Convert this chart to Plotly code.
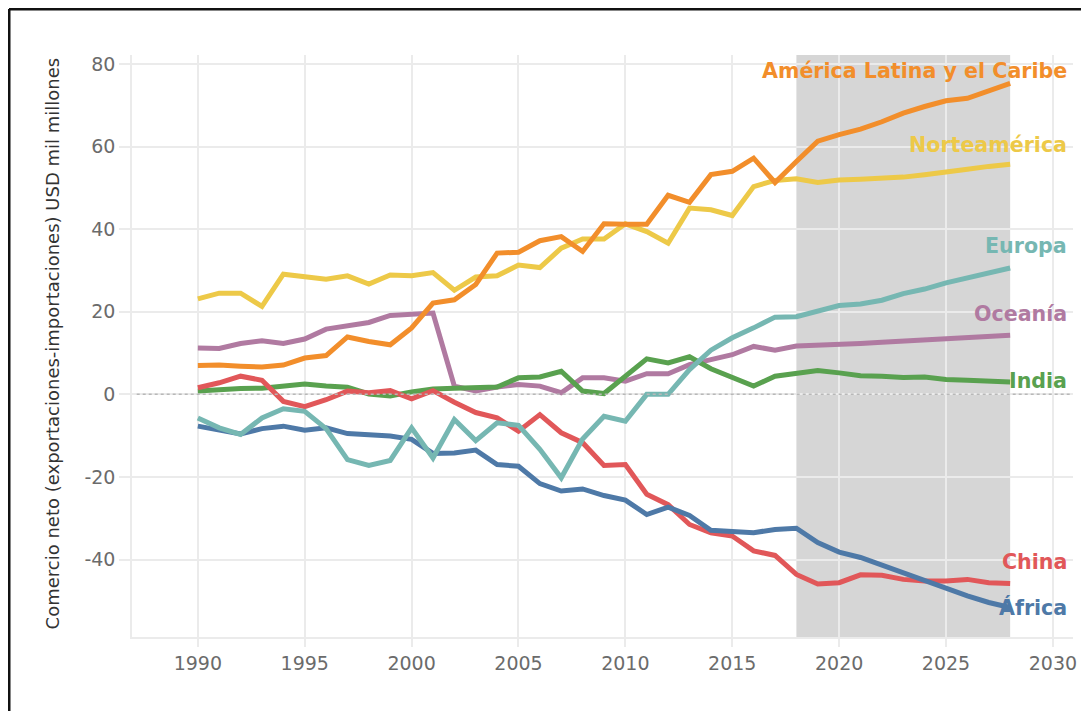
import plotly.graph_objects as go

years = list(range(1990, 2029))

america = [7.0, 7.1, 6.8, 6.6, 7.1, 8.8, 9.4, 13.9, 12.8, 12.0,
           16.1, 22.1, 22.9, 26.6, 34.2, 34.4, 37.2, 38.2, 34.6, 41.3,
           41.2, 41.2, 48.2, 46.5, 53.2, 54.0, 57.2, 51.3, 56.4, 61.3,
           62.9, 64.2, 66.0, 68.1, 69.7, 71.1, 71.7, 73.5, 75.3]
norte = [23.1, 24.5, 24.5, 21.3, 29.1, 28.6, 27.9, 28.7, 26.7, 28.9,
         28.7, 29.5, 25.2, 28.4, 28.7, 31.3, 30.7, 35.4, 37.6, 37.6,
         41.3, 39.4, 36.6, 45.1, 44.7, 43.3, 50.3, 51.8, 52.2, 51.3,
         51.9, 52.1, 52.2, 52.6, 53.2, 54.0, 54.5, 55.2, 55.7]
europa = [-5.7, -8.1, -9.7, -5.7, -3.5, -4.1, -8.3, -15.8, -17.2, -16.0,
          -8.1, -15.4, -6.1, -11.2, -6.9, -7.5, -13.3, -20.2, -10.8, -5.3,
          -6.5, 0.0, 0.0, 6.0, 10.7, 13.7, 16.1, 18.7, 18.8, 20.1,
          21.5, 21.9, 22.8, 24.4, 25.5, 27.0, 28.2, 29.4, 30.6]
oceania = [11.2, 11.1, 12.3, 13.0, 12.3, 13.4, 15.8, 16.6, 17.4, 19.1,
           19.3, 19.7, 2.0, 0.8, 1.8, 2.4, 2.0, 0.4, 4.0, 4.0,
           3.2, 5.0, 5.0, 7.2, 8.4, 9.6, 11.6, 10.7, 11.7, 11.8,
           12.1, 12.3, 12.6, 12.9, 13.1, 13.4, 13.7, 14.0, 14.3]
india = [0.8, 1.2, 1.4, 1.5, 2.0, 2.5, 2.0, 1.7, 0.1, -0.4,
         0.6, 1.3, 1.5, 1.8, 1.8, 4.0, 4.2, 5.6, 0.8, 0.2,
         4.4, 8.6, 7.6, 9.1, 6.2, 4.0, 2.0, 4.4, 5.0, 5.8,
         5.2, 4.5, 4.4, 4.1, 4.2, 3.6, 3.4, 3.2, 3.0]
china = [1.6, 2.8, 4.4, 3.4, -1.7, -3.0, -1.3, 0.8, 0.4, 0.9,
         -1.1, 0.9, -1.9, -4.4, -5.7, -8.9, -4.9, -9.3, -11.7, -17.2,
         -17.0, -24.2, -26.7, -31.5, -33.5, -34.3, -37.9, -39.0, -43.6, -45.9,
         -45.6, -43.7, -43.8, -44.8, -45.2, -45.2, -44.8, -45.6, -45.8]
africa = [-7.7, -8.5, -9.6, -8.3, -7.7, -8.7, -8.1, -9.5, -9.7, -10.1,
          -10.9, -14.3, -14.2, -13.5, -17.0, -17.4, -21.6, -23.4, -22.9, -24.5,
          -25.6, -29.1, -27.3, -29.3, -32.9, -33.3, -33.5, -32.7, -32.4, -35.9,
          -38.2, -39.5, -41.4, -43.4, -45.2, -47.0, -48.8, -50.4, -51.6]

series_names = ["Norteamérica", "Oceanía", "India", "China", "África", "Europa",
                "América Latina y el Caribe"]
series_values = [norte, oceania, india, china, africa, europa, america]
colors = ["#EDC948", "#B07AA1", "#59A14F", "#E15759", "#4E79A7", "#76B7B2", "#F28E2B"]
label_y = [60.5, 19.4, 3.2, -40.6, -51.5, 35.9, 78.3]

x_ticks = [1990, 1995, 2000, 2005, 2010, 2015, 2020, 2025, 2030]
y_ticks = [-40, -20, 0, 20, 40, 60, 80]
y_ticktext = ["-40", "-20", "0", "20", "40", "60", "80"]

FONT = "DejaVu Sans"
GRID = "#ebebeb"

fig = go.Figure()
for name, vals, col in zip(series_names, series_values, colors):
    fig.add_trace(go.Scatter(x=years, y=vals, mode="lines", name=name,
                             line=dict(color=col, width=5),
                             showlegend=False))

for name, ly, col in zip(series_names, label_y, colors):
    fig.add_annotation(x=2030.75, y=ly, xref="x", yref="y", text="<b>%s</b>" % name,
                       showarrow=False, xanchor="right", yanchor="middle",
                       font=dict(family=FONT, size=20.6, color=col))

# projection shading
fig.add_shape(type="rect", xref="x", yref="paper", x0=2018, x1=2028, y0=0, y1=1,
              fillcolor="#d6d6d6", line=dict(width=0), layer="below")
# dotted zero line
fig.add_shape(type="line", xref="paper", yref="y", x0=0.005, x1=0.997, y0=0, y1=0,
              line=dict(color="#b8b8b8", width=1.5, dash="dot"), layer="above")

# outer frame lines (screenshot border)
fig.add_shape(type="line", xref="paper", yref="paper", x0=-0.1307, x1=1.03, y0=1.0791, y1=1.0791,
              line=dict(color="#111111", width=3))
fig.add_shape(type="line", xref="paper", yref="paper", x0=-0.1307, x1=-0.1307, y0=1.0791, y1=-0.14,
              line=dict(color="#111111", width=3))

# y-axis title
fig.add_annotation(xref="paper", yref="paper", x=-0.0847, y=0.505,
                   text="Comercio neto (exportaciones-importaciones) USD mil millones",
                   textangle=-90, showarrow=False, xanchor="center", yanchor="middle",
                   font=dict(family=FONT, size=18, color="#333333"))

fig.update_layout(
    width=1081, height=703,
    margin=dict(l=123.7, r=16, t=47, b=74.3),
    plot_bgcolor="white", paper_bgcolor="white",
    font=dict(family=FONT, color="#6b6b6b"),
    xaxis=dict(range=[1986.92, 2030.94], tickvals=x_ticks, showgrid=True, gridcolor=GRID,
               gridwidth=1.5, zeroline=False, showline=True, linecolor=GRID, linewidth=1.5,
               ticks="outside", ticklen=8, tickcolor=GRID, tickwidth=1.5,
               tickfont=dict(family=FONT, size=19, color="#6b6b6b")),
    yaxis=dict(range=[-58.75, 82.17], tickvals=y_ticks, ticktext=y_ticktext,
               showgrid=True, gridcolor=GRID, gridwidth=1.5, zeroline=False,
               showline=True, linecolor=GRID, linewidth=1.5,
               ticks="outside", ticklen=11, tickcolor=GRID, tickwidth=1.5,
               tickfont=dict(family=FONT, size=19, color="#6b6b6b")),
)

fig.write_html("out.html")
